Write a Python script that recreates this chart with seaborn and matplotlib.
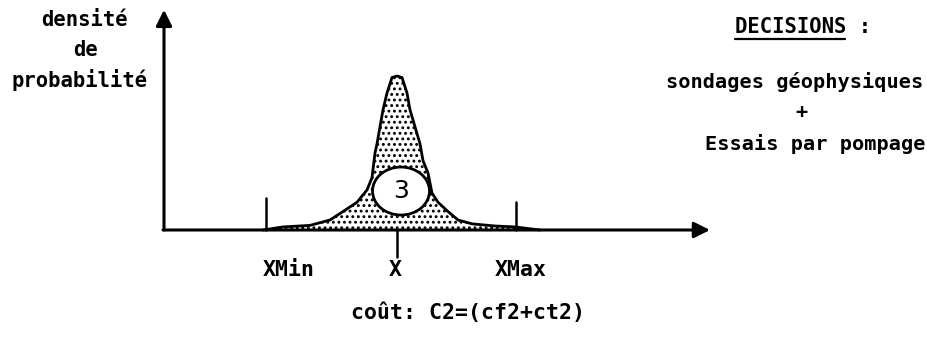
import matplotlib
matplotlib.use('Agg')
import matplotlib.pyplot as plt
from matplotlib.patches import Ellipse
from matplotlib.lines import Line2D
import seaborn as sns

# density curve (x relative to the mode X, density relative to the peak)
curveX = [-134, -114, -87, -67, -54, -40, -30, -25, -22, -20, -17, -14, -10, -5, 0,
          5, 10, 13, 18, 23, 26, 31, 35, 41, 51, 61, 75, 98, 118, 143]
curveDensity = [0.0, 0.02, 0.03, 0.065, 0.12, 0.18, 0.26, 0.34, 0.50, 0.56, 0.67, 0.78, 0.89, 0.99, 1.0,
                0.99, 0.89, 0.78, 0.67, 0.56, 0.45, 0.37, 0.24, 0.18, 0.12, 0.065, 0.04, 0.026, 0.02, 0.0]

tickLabels = ['XMin', 'X', 'XMax']
tickPositions = [-131, 0, 119]

leftLabel = ['densité', 'de', 'probabilité']
decisionTitle = 'DECISIONS'
decisionLines = ['sondages géophysiques', '+', 'Essais par pompage']
costLabel = 'coût: C2=(cf2+ct2)'
zoneLabel = '3'

sns.set_style('white')
plt.rcParams['font.family'] = ['DejaVu Sans Mono', 'DejaVu Sans']
plt.rcParams['text.color'] = 'black'
plt.rcParams['hatch.linewidth'] = 1.3

W, H = 928, 344
fig = plt.figure(figsize=(W / 100, H / 100), dpi=100)
ax = fig.add_axes([0, 0, 1, 1])
ax.set_xlim(-397, W - 397)
ax.set_ylim(-114 / 154, 230 / 154)
ax.axis('off')

def fx(px):
    return px / W

def fy(py):
    return 1 - py / H

# stippled area under the curve
ax.fill_between(curveX, curveDensity, 0, facecolor='white', edgecolor='black',
                linewidth=0, hatch='...')
sns.lineplot(x=curveX, y=curveDensity, color='black', linewidth=2.0, ax=ax, sort=False)

# axes with arrow heads
arrowProps = dict(arrowstyle='-|>', color='black', lw=2.2, mutation_scale=24,
                  shrinkA=0, shrinkB=0)
ax.annotate('', xy=(-233, 1.43), xytext=(-233, 0), arrowprops=arrowProps)
ax.annotate('', xy=(313, 0), xytext=(-234, 0), arrowprops=arrowProps)

# XMin / X / XMax marks
ax.plot([tickPositions[0]] * 2, [0, 0.21], color='black', lw=1.8)
ax.plot([tickPositions[2]] * 2, [0, 0.18], color='black', lw=1.8)
ax.plot([tickPositions[1]] * 2, [0, -0.175], color='black', lw=1.8)
for lab, px in zip(tickLabels, [289, 395, 521]):
    ax.text(px - 397, -40 / 154, lab, ha='center', va='center',
            fontsize=15.5, fontweight='bold')

# zone number in its circle
ax.add_patch(Ellipse((4, 0.253), 57, 48 / 154, facecolor='white',
                     edgecolor='black', lw=2.0, zorder=5))
ax.text(4, 0.25, zoneLabel, ha='center', va='center', fontsize=18,
        family='DejaVu Sans', zorder=6)

# left label
for txt, (px, py) in zip(leftLabel, [(84, 20), (86, 50), (80, 80)]):
    fig.text(fx(px), fy(py), txt, ha='center', va='center', fontsize=14.8, fontweight='bold')

# decisions block
fig.text(fx(735), fy(27), decisionTitle + ' :', ha='left', va='center',
         fontsize=14.8, fontweight='bold')
fig.add_artist(Line2D([fx(735), fx(845)], [fy(39), fy(39)], color='black', lw=1.6))
for txt, (px, py) in zip(decisionLines, [(795, 82), (802, 113), (815, 144)]):
    fig.text(fx(px), fy(py), txt, ha='center', va='center', fontsize=14.6, fontweight='bold')

fig.text(fx(468), fy(313), costLabel, ha='center', va='center', fontsize=15.5, fontweight='bold')

fig.savefig('out.png', dpi=100)
